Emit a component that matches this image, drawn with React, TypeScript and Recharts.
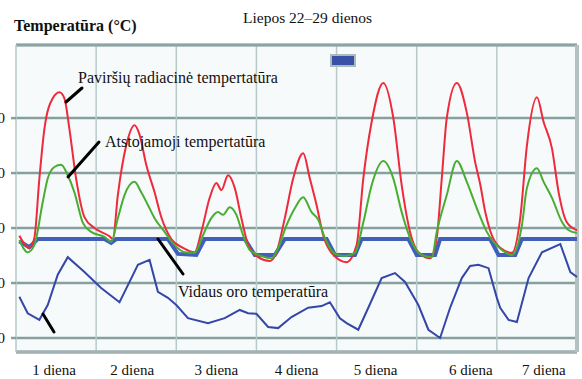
import { LineChart, Line, XAxis, YAxis, CartesianGrid, ReferenceLine } from 'recharts';

const SERIF = "'Liberation Serif', 'Times New Roman', Times, serif";

// x = hour from the start of day 1, y = °C
const dayLabels = ['1 diena', '2 diena', '3 diena', '4 diena', '5 diena', '6 diena', '7 diena'];
const dayCenters = [12, 36, 60, 84, 108, 132, 156];
const dayBounds = [24, 48, 72, 96, 120, 144];
const yTicks = [10, 20, 30, 40, 50];

// Paviršių radiacinė temperatūra (red)
const surfacePts: [number, number][] = [
  [1, 28.6], [4, 26.4], [5.5, 28.2], [7, 39], [8.5, 48], [11, 53.6], [13, 54.7], [14.5, 53.6],
  [16, 48], [18, 39], [20.5, 32], [23.5, 30], [28, 28.5], [29, 28], [30.5, 36], [33, 45],
  [35.5, 48.7], [37, 47], [39, 41.5], [41.5, 36.5], [43.5, 32], [46.5, 28], [50, 26.4],
  [53.5, 25.6], [55.5, 29.3], [58, 35.5], [60, 38.2], [61.5, 36.9], [63.5, 39.6], [65.5, 37.3],
  [67.5, 31.8], [69.5, 27], [72.5, 24.7], [76, 24], [78, 25.6], [80.5, 31.8], [83, 39],
  [86, 43.6], [88, 39], [90, 34.2], [92, 28.7], [94.5, 25.5], [99, 23.8], [102, 26.9],
  [104, 39], [106.5, 49.3], [110, 56.4], [113, 50], [115.5, 37.8], [118, 29.3], [120.5, 25.6],
  [124, 24.5], [126, 28.2], [127.5, 39], [129, 50], [132, 56.4], [135, 51], [137.5, 42],
  [139, 38], [140.5, 33], [142, 29.5], [145, 26.4], [148.5, 25.5], [151, 31.8], [153, 45],
  [156, 53.8], [158, 49.3], [160.5, 44.5], [162.5, 36.5], [165, 31], [168, 29.6],
];

// Atstojamoji temperatūra (green)
const resultantPts: [number, number][] = [
  [1, 27.8], [3.5, 25.6], [5.5, 26.9], [8, 34.7], [9.5, 39], [11.5, 41.1], [13.5, 41.5],
  [15.5, 39.6], [17.5, 36.5], [20, 31], [22.5, 29.3], [26.5, 28.4], [28.5, 27.5], [30.5, 31.8],
  [32.5, 36], [35.5, 38.4], [37.5, 36.5], [39.5, 34.2], [41.5, 31.8], [44.5, 29.3], [47.5, 26.9],
  [50.5, 25.6], [53.5, 25.5], [56, 28.7], [58.5, 31.8], [60.5, 32.9], [62, 32.4], [64, 33.8],
  [66, 32.4], [68, 28.7], [70, 26], [73.5, 24.9], [76.5, 24.5], [78.5, 26.4], [81, 30.5],
  [83.5, 33.6], [86, 35.6], [88.5, 32.9], [90.5, 31.5], [92.5, 28.2], [95.5, 25.3], [98.5, 24.9],
  [101.5, 25.5], [104, 31], [106.5, 37.8], [110, 42.2], [113, 39], [115.5, 32.9], [118.5, 27.5],
  [121.5, 25.1], [124.5, 24.7], [126, 29.3], [129, 36], [132, 42.2], [135, 38.4], [138, 33.6],
  [141, 29.3], [145.5, 26], [148.5, 25.1], [151.5, 30.5], [153, 37.3], [156, 40.9], [158, 38.4],
  [160.5, 35.5], [163.5, 31.1], [165.5, 29.6], [168, 29.1],
];

// thick blue, flat with night dips
const controlPts: [number, number][] = [
  [1, 27.6], [4, 26.5], [6.5, 28], [26.5, 28], [28.5, 27.3], [30, 28], [45.5, 28], [48.5, 25.3],
  [54, 25.1], [56.5, 28], [68.5, 28], [71.5, 25.1], [77.5, 25.1], [80.5, 28], [93, 28],
  [95.5, 25.1], [101.5, 25.1], [103.5, 28], [117.5, 28], [120, 25.1], [125.5, 25.1], [127, 28],
  [142, 28], [144.5, 25.1], [149.5, 25.1], [151.5, 28], [168, 28],
];

// Vidaus oro temperatūra (thin blue)
const indoorPts: [number, number][] = [
  [1, 17.5], [3.5, 14.5], [7, 13.3], [9.5, 16], [12.5, 21.5], [15.5, 24.7], [20.5, 22],
  [25.5, 19.1], [31, 16.5], [34, 20.2], [36.5, 23.3], [40, 24.2], [42.5, 18.4], [45.5, 17.3],
  [48, 16], [51.5, 13.6], [57.5, 12.7], [62.5, 13.6], [67, 15.1], [69.5, 14.5], [72, 14.4],
  [75.5, 12], [78.5, 11.8], [82.5, 13.8], [87.5, 15.5], [91.5, 15.8], [94, 16.5], [97, 13.6],
  [99, 12.7], [102.5, 11.5], [105.5, 15.5], [109.5, 20.9], [113.5, 21.8], [116.5, 20.2],
  [120.5, 16], [123.5, 11.5], [127, 10], [130, 15.5], [133.5, 20.9], [136, 23.1], [138.5, 23.3],
  [141.5, 22.7], [144, 17.3], [145, 15.5], [147.5, 13.3], [150, 12.9], [153.5, 20.9],
  [157.5, 25.6], [163, 27.1], [166, 22], [168, 21.1],
];

const rows = (pts: [number, number][]) => pts.map(([hour, temp]) => ({ hour, temp }));

const txt = { fontFamily: SERIF, fill: '#111' };
// the day labels in the original are not quite centred under their days
const labelNudge = [-2, -4, 0, 0, -1, 14, 7];

const DayTick = (props: any) => {
  const { x, y, payload } = props;
  const i = dayCenters.indexOf(payload.value);
  return (
    <text x={x + labelNudge[i]} y={y} dy={15} textAnchor="middle" style={{ ...txt, fontSize: 15 }}>
      {dayLabels[i]}
    </text>
  );
};

const ValueTick = (props: any) => {
  const { x, y, payload } = props;
  return (
    <text x={x} y={y} dy={5} textAnchor="end" style={{ ...txt, fontSize: 15 }}>
      {payload.value}
    </text>
  );
};

export default function App() {
  return (
    <div style={{ position: 'absolute', left: 0, top: 0, width: 582, height: 379, overflow: 'hidden', background: '#fff', fontFamily: SERIF }}>
      <LineChart width={582} height={379} margin={{ top: 45, right: 5, left: 0, bottom: 5 }}>
        <CartesianGrid vertical={false} stroke="#86a09e" strokeWidth={2.5} fill="#f7fafb" />
        <XAxis
          dataKey="hour"
          type="number"
          domain={[0, 168]}
          ticks={dayCenters}
          tick={<DayTick />}
          tickLine={false}
          axisLine={false}
          height={22}
        />
        <YAxis
          type="number"
          domain={[7.45, 63.3]}
          ticks={yTicks}
          width={16}
          tickSize={5}
          tickMargin={6}
          axisLine={{ stroke: '#b9c9c9', strokeWidth: 1.5 }}
          tickLine={{ stroke: '#86a09e', strokeWidth: 2.5 }}
          tick={<ValueTick />}
        />
        {dayBounds.map((h) => (
          <ReferenceLine key={h} x={h} stroke="#b8c9ca" strokeWidth={1.5} />
        ))}
        <ReferenceLine y={63.3} stroke="#8da4a2" strokeWidth={3} />
        <ReferenceLine y={7.45} stroke="#a3b3b4" strokeWidth={3.5} />
        <ReferenceLine x={168} stroke="#b4c1c2" strokeWidth={4} />
        <Line data={rows(controlPts)} dataKey="temp" type="linear" stroke="#3f5fb8" strokeWidth={4} dot={false} isAnimationActive={false} />
        <Line data={rows(surfacePts)} dataKey="temp" type="monotone" stroke="#ee2a3c" strokeWidth={2} dot={false} isAnimationActive={false} />
        <Line data={rows(resultantPts)} dataKey="temp" type="monotone" stroke="#49ad33" strokeWidth={2} dot={false} isAnimationActive={false} />
        <Line data={rows(indoorPts)} dataKey="temp" type="linear" stroke="#3447a8" strokeWidth={2} dot={false} isAnimationActive={false} />
      </LineChart>

      <div style={{ position: 'absolute', left: 330, top: 54, width: 22, height: 9, background: '#3a4fa6', border: '2px solid #a9bcbc' }} />

      <svg width={582} height={379} style={{ position: 'absolute', left: 0, top: 0, pointerEvents: 'none' }}>
        <text x={14} y={31} style={{ ...txt, fontSize: 16, fontWeight: 'bold' }}>Temperatūra (°C)</text>
        <text x={243} y={23} style={{ ...txt, fontSize: 15.5 }}>Liepos 22–29 dienos</text>
        <text x={78} y={83} style={{ ...txt, fontSize: 16 }}>Paviršių radiacinė tempertatūra</text>
        <text x={105} y={147} style={{ ...txt, fontSize: 16 }}>Atstojamoji tempertatūra</text>
        <text x={178} y={297} style={{ ...txt, fontSize: 16 }}>Vidaus oro temperatūra</text>
        <g stroke="#000" strokeWidth={3} strokeLinecap="round">
          <line x1={82} y1={88} x2={66} y2={102} />
          <line x1={99} y1={142} x2={68} y2={177} />
          <line x1={158} y1={239} x2={183} y2={274} />
          <line x1={43} y1={314} x2={54} y2={332} />
        </g>
      </svg>
    </div>
  );
}
